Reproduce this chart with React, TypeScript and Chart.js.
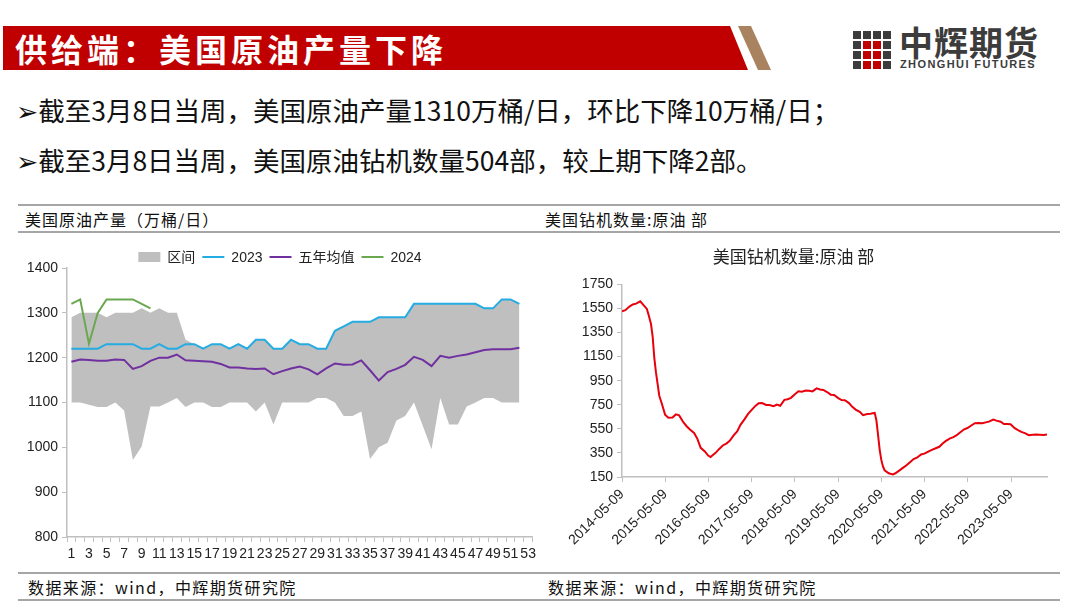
import React, { useEffect, useRef } from "react";
import { Chart, registerables } from "chart.js";

Chart.register(...registerables);

// ---------- Left chart data: US crude production (万桶/日) ----------
const weekLabels = [
  "1", "2", "3", "4", "5", "6", "7", "8", "9", "10", "11", "12", "13", "14", "15", "16", "17", "18",
  "19", "20", "21", "22", "23", "24", "25", "26", "27", "28", "29", "30", "31", "32", "33", "34", "35",
  "36", "37", "38", "39", "40", "41", "42", "43", "44", "45", "46", "47", "48", "49", "50", "51", "52", "53",
];

const rangeUpper = [
  1290, 1300, 1300, 1300, 1290, 1300, 1300, 1300, 1310, 1300,
  1310, 1300, 1300, 1240, 1230, 1220, 1230, 1230, 1220, 1230,
  1220, 1240, 1240, 1220, 1220, 1240, 1230, 1230, 1220, 1220,
  1260, 1270, 1280, 1280, 1280, 1290, 1290, 1290, 1290, 1320,
  1320, 1320, 1320, 1320, 1320, 1320, 1320, 1310, 1310, 1330,
  1330, 1320,
];

const rangeLower = [
  1100, 1100, 1095, 1090, 1090, 1100, 1082, 972, 1002, 1091,
  1091, 1100, 1110, 1090, 1100, 1100, 1090, 1090, 1100, 1100,
  1100, 1080, 1100, 1051, 1100, 1100, 1100, 1100, 1110, 1110,
  1100, 1070, 1070, 1080, 974, 1000, 1010, 1060, 1070, 1100,
  1048, 996, 1110, 1051, 1051, 1091, 1100, 1110, 1110, 1100,
  1100, 1100,
];

const prod2023 = [
  1220, 1220, 1220, 1220, 1230, 1230, 1230, 1230, 1220, 1220,
  1230, 1220, 1220, 1230, 1230, 1220, 1230, 1230, 1220, 1230,
  1220, 1240, 1240, 1220, 1220, 1240, 1230, 1230, 1220, 1220,
  1260, 1270, 1280, 1280, 1280, 1290, 1290, 1290, 1290, 1320,
  1320, 1320, 1320, 1320, 1320, 1320, 1320, 1310, 1310, 1330,
  1330, 1320,
];

const fiveYearAvg = [
  1191, 1196, 1195, 1193, 1193, 1196, 1195, 1175, 1181, 1193,
  1200, 1200, 1207, 1194, 1193, 1192, 1191, 1186, 1178, 1178,
  1176, 1175, 1176, 1163, 1170, 1176, 1180, 1174, 1163, 1176,
  1187, 1184, 1185, 1194, 1172, 1149, 1168, 1175, 1184, 1202,
  1195, 1181, 1204, 1200, 1204, 1207, 1212, 1217, 1219, 1219,
  1219, 1222,
];

const prod2024 = [1320, 1330, 1231, 1300, 1330, 1330, 1330, 1330, 1320, 1310];

const prodYTicks = [800, 900, 1000, 1100, 1200, 1300, 1400];

// ---------- Right chart data: US oil rig count ----------
const rigDates = [
  "2014-05-09", "2014-06-06", "2014-07-11", "2014-08-08", "2014-09-05", "2014-10-10", "2014-11-07", "2014-12-05", "2014-12-19",
  "2015-01-09", "2015-01-23", "2015-02-06", "2015-02-20", "2015-03-06", "2015-03-20", "2015-04-10", "2015-05-08", "2015-06-05",
  "2015-07-10", "2015-08-07", "2015-09-04", "2015-10-09", "2015-11-06", "2015-12-04",
  "2016-01-08", "2016-02-05", "2016-03-04", "2016-04-08", "2016-05-06", "2016-05-27", "2016-06-10", "2016-07-08", "2016-08-05",
  "2016-09-09", "2016-10-07", "2016-11-04", "2016-12-09",
  "2017-01-06", "2017-02-03", "2017-03-10", "2017-04-07", "2017-05-05", "2017-06-09", "2017-07-07", "2017-08-04", "2017-09-08",
  "2017-10-06", "2017-11-10", "2017-12-08",
  "2018-01-05", "2018-02-09", "2018-03-09", "2018-04-06", "2018-05-04", "2018-06-08", "2018-07-06", "2018-08-10", "2018-09-07",
  "2018-10-05", "2018-11-09", "2018-12-07",
  "2019-01-04", "2019-02-08", "2019-03-08", "2019-04-05", "2019-05-10", "2019-06-07", "2019-07-05", "2019-08-09", "2019-09-06",
  "2019-10-04", "2019-11-08", "2019-12-06",
  "2020-01-10", "2020-02-07", "2020-03-06", "2020-03-13", "2020-03-27", "2020-04-10", "2020-04-24", "2020-05-08", "2020-05-22",
  "2020-06-05", "2020-07-10", "2020-08-14", "2020-09-04", "2020-10-09", "2020-11-06", "2020-12-04",
  "2021-01-08", "2021-02-05", "2021-03-05", "2021-04-09", "2021-05-07", "2021-06-04", "2021-07-09", "2021-08-06", "2021-09-10",
  "2021-10-08", "2021-11-05", "2021-12-10",
  "2022-01-07", "2022-02-04", "2022-03-04", "2022-04-08", "2022-05-06", "2022-06-10", "2022-07-08", "2022-08-05", "2022-09-09",
  "2022-10-07", "2022-11-04", "2022-12-09",
  "2023-01-06", "2023-02-10", "2023-03-10", "2023-04-06", "2023-05-05", "2023-06-09", "2023-07-07", "2023-08-04", "2023-09-08",
  "2023-10-06", "2023-11-10", "2023-12-08",
  "2024-01-05", "2024-02-09", "2024-03-08",
];

const rigValues = [
  1527, 1536, 1566, 1583, 1590, 1609, 1578, 1546, 1499,
  1421, 1317, 1140, 1019, 922, 825, 760, 668, 642,
  645, 670, 662, 605, 572, 545,
  516, 467, 392, 362, 328, 316, 328, 351, 381,
  414, 428, 450, 498,
  529, 583, 631, 672, 703, 741, 763, 765, 749,
  748, 738, 751,
  742, 791, 796, 808, 834, 862, 858, 869, 867,
  861, 886, 877,
  873, 854, 834, 831, 805, 789, 788, 764, 733,
  710, 691, 663,
  673, 676, 682, 683, 624, 504, 378, 292, 237,
  206, 181, 172, 181, 205, 226, 246,
  275, 299, 310, 337, 344, 359, 376, 387, 401,
  428, 450, 471,
  481, 497, 519, 546, 557, 580, 597, 598, 596,
  604, 610, 627,
  618, 609, 590, 590, 588, 556, 540, 525, 513,
  497, 500, 503,
  501, 499, 504,
];

const rigTickLabels = [
  "2014-05-09", "2015-05-09", "2016-05-09", "2017-05-09", "2018-05-09",
  "2019-05-09", "2020-05-09", "2021-05-09", "2022-05-09", "2023-05-09",
];

const CJK = '"Noto Sans CJK SC", "DejaVu Sans", sans-serif';
const NUM = '"Liberation Sans", "Noto Sans CJK SC", sans-serif';

const legendPlugin = {
  id: "customLegend",
  afterDraw(chart: any) {
    const ctx = chart.ctx;
    const items = chart.data.datasets.filter((d: any) => d.legendKind);
    ctx.save();
    ctx.font = `14px ${NUM}`;
    const sym = 22;
    const gapSym = 7;
    const gapItem = 7;
    const widths = items.map((d: any) => sym + gapSym + ctx.measureText(d.label).width);
    const total = widths.reduce((a: number, b: number) => a + b, 0) + gapItem * (items.length - 1);
    let x = chart.width / 2 - total / 2;
    const y = 17;
    items.forEach((d: any, i: number) => {
      if (d.legendKind === "box") {
        ctx.fillStyle = d.backgroundColor;
        ctx.fillRect(x, y - 5, sym, 10);
      } else {
        ctx.strokeStyle = d.borderColor;
        ctx.lineWidth = 2;
        ctx.beginPath();
        ctx.moveTo(x, y);
        ctx.lineTo(x + sym, y);
        ctx.stroke();
      }
      ctx.fillStyle = "#222";
      ctx.textBaseline = "middle";
      ctx.textAlign = "left";
      ctx.fillText(d.label, x + sym + gapSym, y + 1);
      x += widths[i] + gapItem;
    });
    ctx.restore();
  },
};

export default function App() {
  const leftRef = useRef<HTMLCanvasElement>(null);
  const rightRef = useRef<HTMLCanvasElement>(null);

  useEffect(() => {
    const axisGray = "#bfbfbf";
    const plain = (v: any) => String(v);
    const left = new Chart(leftRef.current as HTMLCanvasElement, {
      type: "line",
      data: {
        labels: weekLabels,
        datasets: [
          {
            label: "区间",
            legendKind: "box",
            data: rangeUpper,
            borderWidth: 0,
            borderColor: "rgba(0,0,0,0)",
            backgroundColor: "#bfbfbf",
            fill: "+1",
            pointRadius: 0,
            tension: 0,
          } as any,
          {
            label: "",
            data: rangeLower,
            borderWidth: 0,
            borderColor: "rgba(0,0,0,0)",
            backgroundColor: "#bfbfbf",
            fill: false,
            pointRadius: 0,
            tension: 0,
          },
          {
            label: "2023",
            legendKind: "line",
            data: prod2023,
            borderColor: "#25ace3",
            backgroundColor: "#25ace3",
            borderWidth: 2,
            pointRadius: 0,
            fill: false,
            tension: 0,
          } as any,
          {
            label: "五年均值",
            legendKind: "line",
            data: fiveYearAvg,
            borderColor: "#7030a0",
            backgroundColor: "#7030a0",
            borderWidth: 2,
            pointRadius: 0,
            fill: false,
            tension: 0,
          } as any,
          {
            label: "2024",
            legendKind: "line",
            data: prod2024,
            borderColor: "#6aa84f",
            backgroundColor: "#6aa84f",
            borderWidth: 2,
            pointRadius: 0,
            fill: false,
            tension: 0,
          } as any,
        ],
      },
      options: {
        responsive: false,
        animation: false,
        layout: { padding: { top: 28, right: 6, left: 0, bottom: 0 } },
        plugins: {
          legend: { display: false },
          tooltip: { enabled: false },
          filler: { drawTime: "beforeDatasetsDraw" },
        } as any,
        scales: {
          x: {
            type: "category",
            offset: true,
            grid: { display: true, drawOnChartArea: false, tickLength: 5, color: axisGray, offset: true },
            border: { color: axisGray, width: 1.5 },
            ticks: {
              autoSkip: false,
              maxRotation: 0,
              minRotation: 0,
              padding: 4,
              color: "#222",
              font: { size: 14, family: NUM },
              callback: (_v: any, i: number) => (i % 2 === 0 ? weekLabels[i] : ""),
            },
            afterFit: (s: any) => {
              s.height = 33;
            },
          },
          y: {
            min: 800,
            max: 1400,
            afterBuildTicks: (s: any) => {
              s.ticks = prodYTicks.map((v) => ({ value: v }));
            },
            grid: { display: true, drawOnChartArea: false, tickLength: 5, color: axisGray },
            border: { color: axisGray, width: 1.5 },
            ticks: { color: "#222", padding: 4, font: { size: 14, family: NUM }, callback: plain },
            afterFit: (s: any) => {
              s.width = 47;
            },
          },
        },
      },
      plugins: [legendPlugin],
    });

    const rigPoints = rigDates.map((d, i) => ({ x: Date.parse(d), y: rigValues[i] }));
    const right = new Chart(rightRef.current as HTMLCanvasElement, {
      type: "line",
      data: {
        datasets: [
          {
            label: "美国钻机数量:原油 部",
            data: rigPoints,
            borderColor: "#e8000b",
            backgroundColor: "#e8000b",
            borderWidth: 2,
            pointRadius: 0,
            tension: 0,
            fill: false,
          },
        ],
      },
      options: {
        responsive: false,
        animation: false,
        layout: { padding: { top: 0, right: 13, left: 0, bottom: 0 } },
        plugins: {
          legend: { display: false },
          tooltip: { enabled: false },
          title: {
            display: true,
            text: "美国钻机数量:原油 部",
            color: "#222",
            font: { size: 17, family: CJK, weight: "normal" },
            padding: { top: 6, bottom: 18 },
          },
        },
        scales: {
          x: {
            type: "linear",
            min: Date.parse(rigDates[0]),
            max: Date.parse(rigDates[rigDates.length - 1]),
            afterBuildTicks: (s: any) => {
              s.ticks = rigTickLabels.map((t) => ({ value: Date.parse(t) }));
            },
            grid: { display: true, drawOnChartArea: false, tickLength: 5, color: axisGray },
            border: { color: axisGray, width: 1.5 },
            ticks: {
              autoSkip: false,
              minRotation: 45,
              maxRotation: 45,
              padding: 4,
              color: "#222",
              font: { size: 14, family: NUM },
              callback: (v: any) => {
                const idx = rigTickLabels.findIndex((t) => Date.parse(t) === v);
                return idx >= 0 ? rigTickLabels[idx] : "";
              },
            },
            afterFit: (s: any) => {
              s.height = 98;
            },
          },
          y: {
            min: 150,
            max: 1750,
            ticks: { stepSize: 200, color: "#222", padding: 4, font: { size: 14, family: NUM }, callback: plain },
            grid: { display: true, drawOnChartArea: false, tickLength: 5, color: axisGray },
            border: { color: axisGray, width: 1.5 },
            afterFit: (s: any) => {
              s.width = 82;
            },
          },
        },
      },
    });

    return () => {
      left.destroy();
      right.destroy();
    };
  }, []);

  const lineStyle = (top: number): React.CSSProperties => ({
    position: "absolute",
    left: 18,
    top,
    width: 1042,
    height: 2,
    background: "#a6a6a6",
  });

  const logoCells: { c: number; r: number; red: boolean }[] = [];
  for (let r = 0; r < 4; r++) {
    for (let c = 0; c < 4; c++) {
      logoCells.push({ c, r, red: r > 0 && (c === 1 || c === 2) });
    }
  }

  return (
    <div
      style={{
        position: "fixed",
        left: 0,
        top: 0,
        width: 1080,
        height: 608,
        background: "#ffffff",
        overflow: "hidden",
        fontFamily: CJK,
        color: "#111",
      }}
    >
      {/* Banner */}
      <div
        style={{
          position: "absolute",
          left: 3,
          top: 26,
          width: 800,
          height: 44,
          background: "#c00000",
          clipPath: "polygon(0 0, 727px 0, 745px 44px, 0 44px)",
        }}
      />
      <div
        style={{
          position: "absolute",
          left: 0,
          top: 26,
          width: 800,
          height: 44,
          background: "#a9825f",
          clipPath: "polygon(738px 0, 751px 0, 771px 44px, 758px 44px)",
        }}
      />
      <div
        style={{
          position: "absolute",
          left: 15,
          top: 26,
          height: 44,
          lineHeight: "44px",
          color: "#ffffff",
          fontSize: 32,
          fontWeight: 700,
          letterSpacing: 4,
          whiteSpace: "nowrap",
        }}
      >
        供给端：美国原油产量下降
      </div>

      {/* Logo */}
      {logoCells.map((cell, i) => (
        <div
          key={i}
          style={{
            position: "absolute",
            left: 853 + cell.c * 10,
            top: 31 + cell.r * 10,
            width: 8,
            height: 8,
            background: cell.red ? "#c00000" : "#3c3c3c",
          }}
        />
      ))}
      <div
        style={{
          position: "absolute",
          left: 899,
          top: 23,
          fontSize: 34,
          fontWeight: 700,
          color: "#3c3c3c",
          lineHeight: "38px",
          whiteSpace: "nowrap",
          letterSpacing: 1,
        }}
      >
        中辉期货
      </div>
      <div
        style={{
          position: "absolute",
          left: 900,
          top: 58,
          fontSize: 11,
          fontWeight: 700,
          color: "#3c3c3c",
          fontFamily: NUM,
          lineHeight: "12px",
          whiteSpace: "nowrap",
          letterSpacing: 1.4,
        }}
      >
        ZHONGHUI FUTURES
      </div>

      {/* Bullets */}
      <div
        style={{
          position: "absolute",
          left: 16,
          top: 94,
          fontSize: 26.5,
          lineHeight: "32px",
          whiteSpace: "nowrap",
          color: "#111",
        }}
      >
        ➢截至3月8日当周，美国原油产量1310万桶/日，环比下降10万桶/日；
      </div>
      <div
        style={{
          position: "absolute",
          left: 16,
          top: 144,
          fontSize: 26.5,
          lineHeight: "32px",
          whiteSpace: "nowrap",
          color: "#111",
        }}
      >
        ➢截至3月8日当周，美国原油钻机数量504部，较上期下降2部。
      </div>

      {/* Section header */}
      <div style={lineStyle(204)} />
      <div style={lineStyle(231)} />
      <div style={{ position: "absolute", left: 25, top: 208, fontSize: 16, lineHeight: "22px", whiteSpace: "nowrap", letterSpacing: 1 }}>
        美国原油产量（万桶/日）
      </div>
      <div style={{ position: "absolute", left: 545, top: 208, fontSize: 16, lineHeight: "22px", whiteSpace: "nowrap", letterSpacing: 1 }}>
        美国钻机数量:原油 部
      </div>

      {/* Charts */}
      <canvas
        ref={leftRef}
        width={520}
        height={330}
        style={{ position: "absolute", left: 20, top: 240, width: 520, height: 330 }}
      />
      <canvas
        ref={rightRef}
        width={520}
        height={335}
        style={{ position: "absolute", left: 540, top: 240, width: 520, height: 335 }}
      />

      {/* Footer */}
      <div style={lineStyle(572)} />
      <div style={lineStyle(599)} />
      <div style={{ position: "absolute", left: 28, top: 576, fontSize: 16, lineHeight: "22px", whiteSpace: "nowrap", letterSpacing: 1.4 }}>
        数据来源：wind，中辉期货研究院
      </div>
      <div style={{ position: "absolute", left: 548, top: 576, fontSize: 16, lineHeight: "22px", whiteSpace: "nowrap", letterSpacing: 1.4 }}>
        数据来源：wind，中辉期货研究院
      </div>
    </div>
  );
}
